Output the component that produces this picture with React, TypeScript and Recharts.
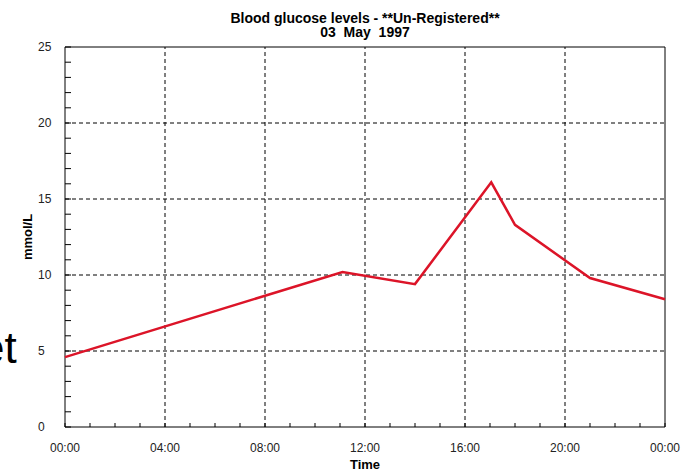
import { Label, Line, LineChart, ReferenceArea, ReferenceLine, XAxis, YAxis } from "recharts";

const FONT = "Arial, 'Liberation Sans', sans-serif";

// readings, hours since midnight
const hours = [0, 11.1, 14, 17.05, 18, 21, 24];
const glucose = [4.6, 10.2, 9.4, 16.1, 13.3, 9.8, 8.4];

const hourTicks = [0, 1, 2, 3, 4, 5, 6, 7, 8, 9, 10, 11, 12, 13, 14, 15, 16, 17, 18, 19, 20, 21, 22, 23, 24];
const majorHours = [4, 8, 12, 16, 20];
const levelTicks = [0, 1, 2, 3, 4, 5, 6, 7, 8, 9, 10, 11, 12, 13, 14, 15, 16, 17, 18, 19, 20, 21, 22, 23, 24, 25];
const majorLevels = [5, 10, 15, 20];

const data = hours.map((h, i) => ({ hour: h, glucose: glucose[i] }));

const fmtHour = (h: number) => String(h % 24).padStart(2, "0") + ":00";

function HourTick({ x, y, payload }: any) {
  const h = payload.value;
  return (
    <g>
      <line x1={x} y1={y} x2={x} y2={y - 4} stroke="#000" />
      {h % 4 === 0 && (
        <text x={x} y={y + 25} textAnchor="middle" fontSize={12} fill="#222" fontFamily={FONT}>
          {fmtHour(h)}
        </text>
      )}
    </g>
  );
}

function LevelTick({ x, y, payload }: any) {
  const v = payload.value;
  return (
    <g>
      <line x1={x} y1={y} x2={x + 6} y2={y} stroke="#000" />
      {v % 5 === 0 && (
        <text x={x - 27} y={y + 4} textAnchor="start" fontSize={12} fill="#222" fontFamily={FONT}>
          {v}
        </text>
      )}
    </g>
  );
}

export default function App() {
  return (
    <div style={{ position: "absolute", left: 0, top: 0, width: 687, height: 472, background: "#fff", fontFamily: FONT }}>
      <div
        style={{
          position: "absolute",
          left: 205,
          top: 11,
          width: 320,
          textAlign: "center",
          fontSize: 14,
          lineHeight: "14px",
          fontWeight: "bold",
          whiteSpace: "pre",
          color: "#000",
        }}
      >
        {"Blood glucose levels - **Un-Registered**\n03  May  1997"}
      </div>
      {/* fragment of slide text behind the chart */}
      <div style={{ position: "absolute", left: -20, top: 326, fontSize: 44, lineHeight: "44px", color: "#000" }}>et</div>
      <LineChart width={687} height={472} data={data} margin={{ top: 47, right: 22, bottom: 0, left: 0 }}>
        <XAxis
          dataKey="hour"
          type="number"
          domain={[0, 24]}
          ticks={hourTicks}
          interval={0}
          height={45}
          tickSize={0}
          tickMargin={0}
          axisLine={false}
          tickLine={false}
          tick={(p: any) => <HourTick {...p} />}
        >
          <Label value="Time" position="insideBottom" offset={3} fontSize={13} fontWeight="bold" fill="#000" fontFamily={FONT} />
        </XAxis>
        <YAxis
          type="number"
          domain={[0, 25]}
          ticks={levelTicks}
          interval={0}
          width={65}
          tickSize={0}
          tickMargin={0}
          axisLine={false}
          tickLine={false}
          tick={(p: any) => <LevelTick {...p} />}
        >
          <Label
            content={({ viewBox }: any) => (
              <text
                transform={`translate(${viewBox.x + 27},${viewBox.y + viewBox.height / 2}) rotate(-90)`}
                textAnchor="middle"
                dominantBaseline="central"
                fontSize={13}
                fontWeight="bold"
                fontFamily={FONT}
                fill="#000"
              >
                mmol/L
              </text>
            )}
          />
        </YAxis>
        {majorHours.map((h) => (
          <ReferenceLine key={"h" + h} x={h} stroke="#000" strokeDasharray="4 3" />
        ))}
        {majorLevels.map((v) => (
          <ReferenceLine key={"v" + v} y={v} stroke="#000" strokeDasharray="4 3" />
        ))}
        <ReferenceArea x1={0} x2={24} y1={0} y2={25} fill="none" stroke="#000" strokeWidth={1} />
        <Line
          type="linear"
          dataKey="glucose"
          stroke="#dc1428"
          strokeWidth={2.5}
          dot={false}
          isAnimationActive={false}
        />
      </LineChart>
    </div>
  );
}
